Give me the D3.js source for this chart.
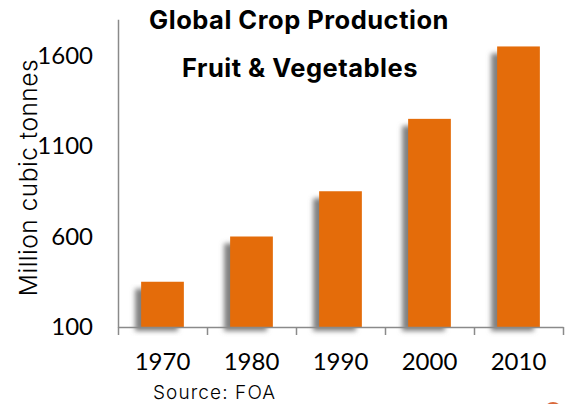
<!DOCTYPE html>
<html><head><meta charset="utf-8">
<script src="https://cdn.jsdelivr.net/npm/d3@7"></script>
<style>
html,body{margin:0;padding:0;background:#fff}
svg{display:block}
text{fill:#000}
</style></head><body>
<svg id="c" width="567" height="404"></svg>
<script>
const categories=["1970","1980","1990","2000","2010"];
const production=[350,600,850,1250,1650];
const yTicks=[100,600,1100,1600];
const titleLines=["Global Crop Production","Fruit & Vegetables"];
const yLabel="Million cubic tonnes";
const source="Source: FOA";

const svg=d3.select("#c");
const x=d3.scaleBand().domain(categories).range([118,563]).paddingInner(0.52).paddingOuter(0.26);
const y=d3.scaleLinear().domain([100,1800]).range([327,19.3]);

const defs=svg.append("defs");
const f=defs.append("filter").attr("id","sh").attr("x","-40%").attr("y","-10%").attr("width","180%").attr("height","120%");
f.append("feGaussianBlur").attr("stdDeviation",2.6);

const g=svg.append("g");
g.selectAll("rect.s").data(production).join("rect").attr("class","s")
 .attr("x",(d,i)=>x(categories[i])-6).attr("y",(d)=>y(d)+7)
 .attr("width",x.bandwidth()).attr("height",d=>y(100)-y(d)-3)
 .attr("fill","#808080").attr("filter","url(#sh)");
g.selectAll("rect.b").data(production).join("rect").attr("class","b")
 .attr("x",(d,i)=>x(categories[i])).attr("y",d=>y(d))
 .attr("width",x.bandwidth()).attr("height",d=>y(100)-y(d))
 .attr("fill","#e46c0a");

const axisColor="#8a8a8a";
const xAxis=d3.axisBottom(d3.scaleLinear().domain([0,5]).range([118,563])).tickValues([0,1,2,3,4,5]).tickSize(8).tickSizeOuter(0).tickFormat("");
const xg=svg.append("g").attr("transform","translate(0,327)").call(xAxis);
xg.selectAll("path,line").attr("stroke",axisColor).attr("stroke-width",1.5);
const yg=svg.append("g").attr("transform","translate(118,0)").call(d3.axisLeft(y).tickValues(yTicks).tickSize(0).tickFormat(d3.format("d")).tickPadding(25));
yg.selectAll("path").attr("stroke",axisColor).attr("stroke-width",1.5);
yg.selectAll("text").attr("font-family","Lato").attr("font-size",24).attr("dy","0.33em").attr("fill","#000");

svg.append("g").selectAll("text").data(categories).join("text")
 .attr("x",d=>x(d)+x.bandwidth()/2).attr("y",370)
 .attr("text-anchor","middle").attr("font-family","Lato").attr("font-size",24).text(d=>d);

svg.append("g").selectAll("text").data(titleLines).join("text")
 .attr("x",(d,i)=>i?300:299).attr("y",(d,i)=>i?77:29)
 .attr("text-anchor","middle").attr("font-family","Inter").attr("font-weight",700).attr("font-size",25.5).attr("letter-spacing",0.5).text(d=>d);

svg.append("text").attr("transform","translate(37,177.5) rotate(-90)").attr("text-anchor","middle")
 .attr("font-family","Inter").attr("font-weight",300).attr("font-size",24.5).attr("letter-spacing",0.5).attr("fill","#222").text(yLabel);
svg.append("text").attr("x",153).attr("y",399).attr("font-family","Inter").attr("font-weight",300).attr("font-size",19).attr("letter-spacing",1.1).attr("fill","#222").text(source);

svg.append("ellipse").attr("cx",553).attr("cy",411).attr("rx",9).attr("ry",9).attr("fill","#d9683a");
</script>
</body></html>
